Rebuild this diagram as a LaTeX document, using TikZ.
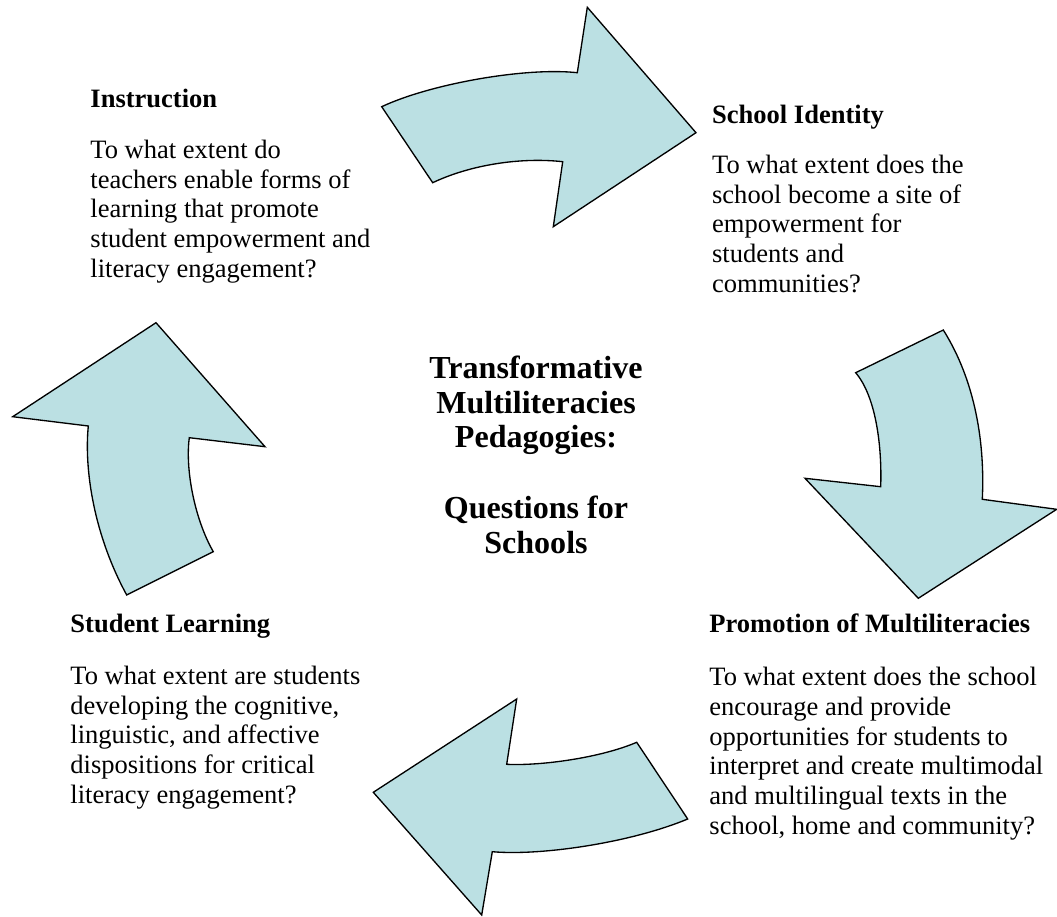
\documentclass[tikz,border=0pt]{standalone}
\usepackage{fontspec}
\setmainfont{Liberation Serif}
\usepackage{tikz}
\usetikzlibrary{calc}
\definecolor{paleblue}{RGB}{187,224,227}
\tikzset{
    bigarrow/.style={draw=black,fill=paleblue,line width=0.6pt,line join=miter},
    heading/.style={anchor=base west,inner sep=0pt,font=\bfseries\fontsize{12}{13.4}\selectfont},
    question/.style={anchor=base west,inner sep=0pt,align=left,font=\fontsize{12}{13.4}\selectfont},
    centretitle/.style={anchor=base,inner sep=0pt,align=center,font=\bfseries\fontsize{14.5}{15.6}\selectfont}
}

\begin{document}
\begin{tikzpicture}[x=0.0159cm,y=-0.0159cm]
        \useasboundingbox (0,0) rectangle (1057,917);

        % the four curved arrows
        \draw[bigarrow] (381.7,106.7) .. controls (430,84) and (525,67) .. (577.3,72.7)
            -- (587.3,7.3) -- (696,132.7) -- (553.3,226.7) -- (562.7,161.7)
            .. controls (520,157) and (470,165) .. (432.7,182.7) -- cycle;
        \draw[bigarrow] (855.7,372.7) -- (943.3,330) .. controls (976,382) and (985,445) .. (982.3,499.3)
            -- (1056.7,509.3) -- (918.3,598.3) -- (805,478.3) -- (880.7,486.7)
            .. controls (882,450) and (877,398) .. cycle;
        \draw[bigarrow] (636.7,742.3) .. controls (600,758) and (540,766) .. (506.7,764.3)
            -- (516.7,699) -- (373.3,792.3) -- (481.7,915) -- (492.3,851.7)
            .. controls (540,856) and (630,843) .. (687.7,819) -- cycle;
        \draw[bigarrow] (126.7,595) -- (213.3,551.7) .. controls (195,520) and (185,470) .. (189.3,437.7)
            -- (265,446.7) -- (156,322.7) -- (12.7,416.7) -- (88.3,426)
            .. controls (84,470) and (94,535) .. cycle;

        % texts (a multi-line node sits on the baseline of its last line)
        \draw (536,553) node[centretitle](topic){Transformative\\ Multiliteracies\\ Pedagogies:\\[16.5pt] Questions for\\ Schools};

        \draw (90,107) node[heading](instr){Instruction};
        \draw (90,277) node[question](instrq){To what extent do\\ teachers enable forms of\\ learning that promote\\ student empowerment and\\ literacy engagement?};

        \draw (711.7,123) node[heading](ident){School Identity};
        \draw (711.7,292) node[question](identq){To what extent does the\\ school become a site of\\ empowerment for\\ students and\\ communities?};

        \draw (70,632) node[heading](learn){Student Learning};
        \draw (70,803) node[question](learnq){To what extent are students\\ developing the cognitive,\\ linguistic, and affective\\ dispositions for critical\\ literacy engagement?};

        \draw (709,632) node[heading](promo){Promotion of Multiliteracies};
        \draw (709,834) node[question](promoq){To what extent does the school\\ encourage and provide\\ opportunities for students to\\ interpret and create multimodal\\ and multilingual texts in the\\ school, home and community?};
    \end{tikzpicture}
\end{document}
